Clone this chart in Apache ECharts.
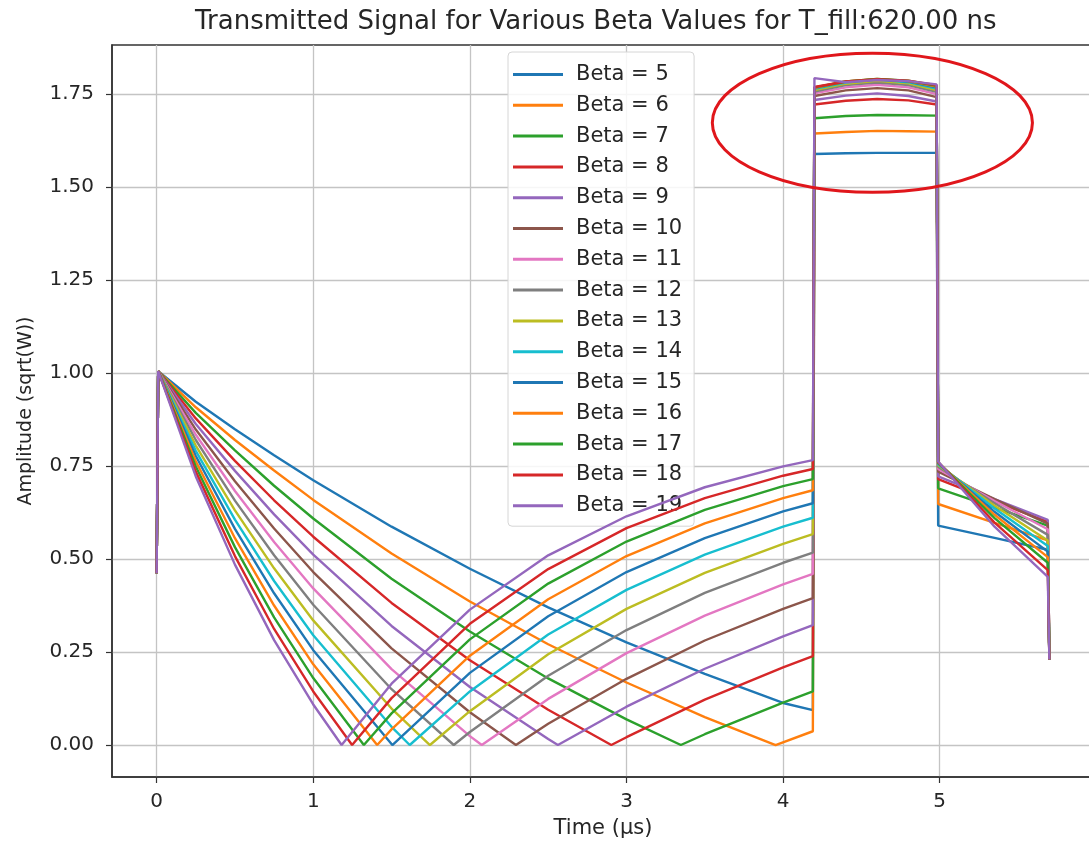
<!DOCTYPE html>
<html>
<head>
<meta charset="utf-8">
<script src="https://cdn.jsdelivr.net/npm/echarts@6.0.0/dist/echarts.min.js"></script>
<style>html,body{margin:0;padding:0;background:#fff}#chart{width:1089px;height:842px}</style>
</head>
<body>
<div id="chart"></div>
<script>
const TITLE = 'Transmitted Signal for Various Beta Values for T_fill:620.00 ns';
const X_NAME = 'Time (μs)';
const Y_NAME = 'Amplitude (sqrt(W))';
const BETAS = [5, 6, 7, 8, 9, 10, 11, 12, 13, 14, 15, 16, 17, 18, 19];
const X_TICKS = [0, 1, 2, 3, 4, 5];
const Y_TICKS = [0, 0.25, 0.5, 0.75, 1.0, 1.25, 1.5, 1.75];
const COLORS = ['#1f77b4','#ff7f0e','#2ca02c','#d62728','#9467bd','#8c564b','#e377c2','#7f7f7f','#bcbd22','#17becf'];

// [time (us), amplitude]
const beta5  = [[0,0.462],[0.01,1.005],[0.25,0.923],[0.5,0.849],[0.75,0.779],[1,0.712],[1.5,0.587],[2,0.474],[2.5,0.370],[3,0.276],[3.5,0.191],[4,0.113],[4.19,0.094],[4.2,1.589],[4.4,1.591],[4.6,1.592],[4.8,1.592],[4.98,1.592],[4.99,0.590],[5.35,0.557],[5.69,0.525],[5.7,0.23]];
const beta6  = [[0,0.462],[0.01,1.005],[0.25,0.908],[0.5,0.820],[0.75,0.738],[1,0.659],[1.5,0.515],[2,0.386],[2.5,0.271],[3,0.168],[3.5,0.075],[3.952,0],[4.19,0.037],[4.2,1.644],[4.4,1.648],[4.6,1.651],[4.8,1.650],[4.98,1.649],[4.99,0.648],[5.35,0.597],[5.69,0.550],[5.7,0.23]];
const beta7  = [[0,0.462],[0.01,1.005],[0.25,0.893],[0.5,0.792],[0.75,0.697],[1,0.609],[1.5,0.447],[2,0.305],[2.5,0.179],[3,0.069],[3.347,0],[3.5,0.029],[4,0.114],[4.19,0.144],[4.2,1.685],[4.4,1.691],[4.6,1.694],[4.8,1.693],[4.98,1.692],[4.99,0.690],[5.35,0.638],[5.69,0.590],[5.7,0.23]];
const beta8  = [[0,0.462],[0.01,1.005],[0.25,0.878],[0.5,0.764],[0.75,0.658],[1,0.560],[1.5,0.382],[2,0.228],[2.5,0.095],[2.903,0],[3,0.021],[3.5,0.122],[4,0.209],[4.19,0.239],[4.2,1.722],[4.4,1.732],[4.6,1.737],[4.8,1.733],[4.98,1.722],[4.99,0.715],[5.35,0.655],[5.69,0.600],[5.7,0.23]];
const beta9  = [[0,0.462],[0.01,1.005],[0.25,0.863],[0.5,0.737],[0.75,0.620],[1,0.512],[1.5,0.320],[2,0.156],[2.5,0.016],[2.562,0],[3,0.103],[3.5,0.205],[4,0.292],[4.19,0.322],[4.2,1.734],[4.4,1.746],[4.6,1.752],[4.8,1.745],[4.98,1.730],[4.99,0.722],[5.35,0.661],[5.69,0.605],[5.7,0.23]];
const beta10 = [[0,0.462],[0.01,1.005],[0.25,0.848],[0.5,0.709],[0.75,0.582],[1,0.465],[1.5,0.260],[2,0.088],[2.294,0],[2.5,0.057],[3,0.178],[3.5,0.281],[4,0.366],[4.19,0.395],[4.2,1.745],[4.4,1.760],[4.6,1.766],[4.8,1.760],[4.98,1.742],[4.99,0.735],[5.35,0.661],[5.69,0.595],[5.7,0.23]];
const beta11 = [[0,0.462],[0.01,1.005],[0.25,0.834],[0.5,0.683],[0.75,0.546],[1,0.421],[1.5,0.204],[2,0.024],[2.076,0],[2.5,0.124],[3,0.247],[3.5,0.348],[4,0.432],[4.19,0.460],[4.2,1.752],[4.4,1.768],[4.6,1.775],[4.8,1.768],[4.98,1.750],[4.99,0.742],[5.35,0.656],[5.69,0.580],[5.7,0.23]];
const beta12 = [[0,0.462],[0.01,1.005],[0.25,0.820],[0.5,0.657],[0.75,0.510],[1,0.377],[1.5,0.150],[1.897,0],[2,0.035],[2.5,0.186],[3,0.309],[3.5,0.409],[4,0.490],[4.19,0.517],[4.2,1.757],[4.4,1.774],[4.6,1.781],[4.8,1.774],[4.98,1.756],[4.99,0.748],[5.35,0.650],[5.69,0.565],[5.7,0.23]];
const beta13 = [[0,0.462],[0.01,1.005],[0.25,0.805],[0.5,0.631],[0.75,0.475],[1,0.335],[1.5,0.098],[1.745,0],[2,0.091],[2.5,0.244],[3,0.366],[3.5,0.463],[4,0.541],[4.19,0.567],[4.2,1.761],[4.4,1.778],[4.6,1.786],[4.8,1.779],[4.98,1.761],[4.99,0.752],[5.35,0.643],[5.69,0.550],[5.7,0.23]];
const beta14 = [[0,0.462],[0.01,1.005],[0.25,0.791],[0.5,0.606],[0.75,0.441],[1,0.295],[1.5,0.049],[1.616,0],[2,0.144],[2.5,0.297],[3,0.417],[3.5,0.512],[4,0.587],[4.19,0.611],[4.2,1.764],[4.4,1.781],[4.6,1.789],[4.8,1.782],[4.98,1.765],[4.99,0.755],[5.35,0.636],[5.69,0.535],[5.7,0.23]];
const beta15 = [[0,0.462],[0.01,1.005],[0.25,0.777],[0.5,0.581],[0.75,0.408],[1,0.255],[1.505,0],[2,0.194],[2.5,0.346],[3,0.465],[3.5,0.556],[4,0.628],[4.19,0.650],[4.2,1.766],[4.4,1.783],[4.6,1.790],[4.8,1.784],[4.98,1.768],[4.99,0.757],[5.35,0.627],[5.69,0.520],[5.7,0.23]];
const beta16 = [[0,0.462],[0.01,1.005],[0.25,0.763],[0.5,0.556],[0.75,0.375],[1,0.217],[1.408,0],[1.5,0.042],[2,0.240],[2.5,0.392],[3,0.508],[3.5,0.596],[4,0.664],[4.19,0.685],[4.2,1.767],[4.4,1.784],[4.6,1.791],[4.8,1.785],[4.98,1.770],[4.99,0.759],[5.35,0.619],[5.69,0.505],[5.7,0.23]];
const beta17 = [[0,0.462],[0.01,1.005],[0.25,0.749],[0.5,0.532],[0.75,0.343],[1,0.180],[1.323,0],[1.5,0.085],[2,0.284],[2.5,0.434],[3,0.547],[3.5,0.632],[4,0.696],[4.19,0.715],[4.2,1.768],[4.4,1.784],[4.6,1.791],[4.8,1.786],[4.98,1.772],[4.99,0.760],[5.35,0.610],[5.69,0.490],[5.7,0.23]];
const beta18 = [[0,0.462],[0.01,1.005],[0.25,0.735],[0.5,0.508],[0.75,0.312],[1,0.144],[1.248,0],[1.5,0.126],[2,0.326],[2.5,0.473],[3,0.583],[3.5,0.664],[4,0.724],[4.19,0.742],[4.2,1.769],[4.4,1.784],[4.6,1.790],[4.8,1.786],[4.98,1.774],[4.99,0.761],[5.35,0.598],[5.69,0.470],[5.7,0.23]];
const beta19 = [[0,0.462],[0.01,1.005],[0.25,0.722],[0.5,0.485],[0.75,0.282],[1,0.109],[1.181,0],[1.5,0.165],[2,0.364],[2.5,0.510],[3,0.615],[3.5,0.693],[4,0.749],[4.19,0.766],[4.2,1.793],[4.4,1.782],[4.6,1.788],[4.8,1.785],[4.98,1.776],[4.99,0.762],[5.35,0.587],[5.69,0.452],[5.7,0.23]];

const SERIES_DATA = [beta5, beta6, beta7, beta8, beta9, beta10, beta11, beta12, beta13, beta14, beta15, beta16, beta17, beta18, beta19];

// annotation ellipse (data units): centre and half-axes
const ELLIPSE = { cx: 4.57, cy: 1.673, rx: 1.022, ry: 0.187 };

const FONT = '"DejaVu Sans", sans-serif';
const TXT = '#262626';

const chart = echarts.init(document.getElementById('chart'), null, { renderer: 'canvas' });

const series = BETAS.map((b, i) => ({
  name: 'Beta = ' + b,
  type: 'line',
  data: SERIES_DATA[i],
  showSymbol: false,
  symbol: 'none',
  lineStyle: { width: 2.4, color: COLORS[i % COLORS.length] },
  itemStyle: { color: COLORS[i % COLORS.length] },
  emphasis: { disabled: true },
  animation: false,
  z: 2 + i
}));

chart.setOption({
  animation: false,
  backgroundColor: '#ffffff',
  color: COLORS,
  title: {
    text: TITLE,
    left: 195,
    top: 9,
    padding: 0,
    textStyle: { fontFamily: FONT, fontSize: 26, fontWeight: 'normal', color: TXT }
  },
  legend: {
    orient: 'vertical',
    left: 508,
    top: 52,
    data: BETAS.map(b => 'Beta = ' + b),
    icon: 'rect',
    itemWidth: 50,
    itemHeight: 3,
    itemGap: 9.8,
    selectedMode: false,
    padding: [12, 12, 10, 5],
    backgroundColor: 'rgba(255,255,255,0.85)',
    borderColor: '#d6d6d6',
    borderWidth: 1,
    borderRadius: 4,
    textStyle: { fontFamily: FONT, fontSize: 21, lineHeight: 21, color: TXT, padding: [0, 0, 0, 8] }
  },
  grid: {
    left: 112, right: -5, top: 45, bottom: 65,
    show: true, borderColor: '#333333', borderWidth: 1.5, backgroundColor: 'transparent',
    containLabel: false, outerBoundsMode: 'none'
  },
  xAxis: {
    type: 'value',
    min: -0.285, max: 5.985,
    name: X_NAME,
    nameLocation: 'middle',
    nameGap: 41,
    nameTextStyle: { fontFamily: FONT, fontSize: 21, color: TXT },
    axisLine: { show: true, onZero: false, lineStyle: { color: '#333333', width: 1.5 } },
    axisTick: { show: true, length: 6, customValues: X_TICKS, lineStyle: { color: '#333333', width: 1.2 } },
    axisLabel: { customValues: X_TICKS, margin: 15, fontFamily: FONT, fontSize: 20, color: TXT, formatter: v => String(v) },
    splitLine: { show: true, lineStyle: { color: '#c4c4c4', width: 1.3 } }
  },
  yAxis: {
    type: 'value',
    min: -0.086, max: 1.882,
    name: Y_NAME,
    nameLocation: 'middle',
    nameGap: 76,
    nameRotate: 90,
    nameTextStyle: { fontFamily: FONT, fontSize: 19, color: TXT },
    axisLine: { show: true, onZero: false, lineStyle: { color: '#333333', width: 1.5 } },
    axisTick: { show: true, length: 6, customValues: Y_TICKS, lineStyle: { color: '#333333', width: 1.2 } },
    axisLabel: { customValues: Y_TICKS, margin: 18, fontFamily: FONT, fontSize: 20, color: TXT, formatter: v => Number(v).toFixed(2) },
    splitLine: { show: true, lineStyle: { color: '#c4c4c4', width: 1.3 } }
  },
  series: series
});

// red annotation ellipse positioned from data coordinates
const c = chart.convertToPixel({ gridIndex: 0 }, [ELLIPSE.cx, ELLIPSE.cy]);
const e = chart.convertToPixel({ gridIndex: 0 }, [ELLIPSE.cx + ELLIPSE.rx, ELLIPSE.cy + ELLIPSE.ry]);
chart.setOption({
  graphic: [{
    type: 'ellipse',
    shape: { cx: c[0], cy: c[1], rx: Math.abs(e[0] - c[0]), ry: Math.abs(c[1] - e[1]) },
    style: { fill: 'none', stroke: '#e0161b', lineWidth: 3 },
    z: 100,
    silent: true
  }]
});
</script>
</body>
</html>
